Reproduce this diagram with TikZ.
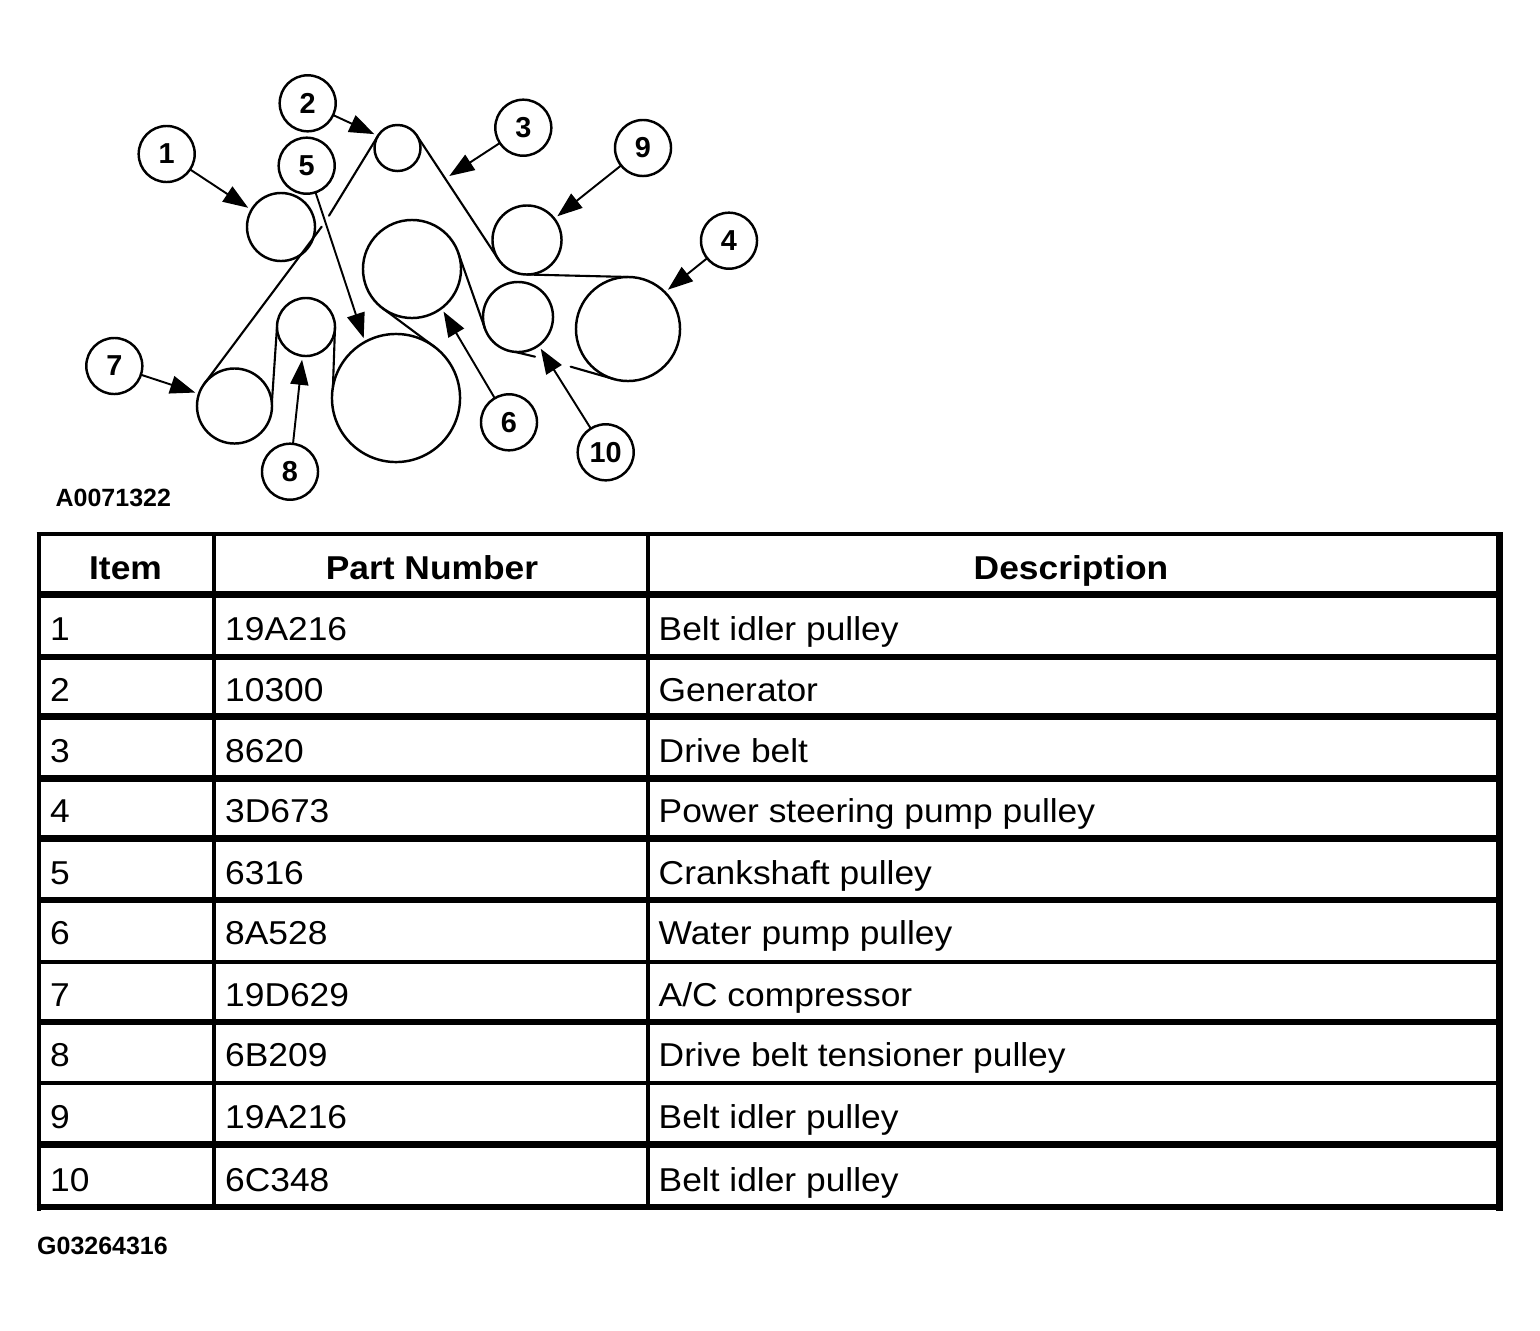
\documentclass[tikz,border=0pt]{standalone}
\usepackage{fontspec}
\setmainfont{Liberation Sans}
\newfontfamily\tablefont[FakeStretch=1.07]{Liberation Sans}
\usetikzlibrary{arrows.meta}
\begin{document}
\begin{tikzpicture}[x=0.01cm,y=-0.01cm]
\tikzset{
  pulley/.style={circle,draw=black,line width=0.7pt,minimum size=#1,inner sep=0pt,outer sep=0pt},
  tagnode/.style={circle,draw=black,line width=0.7pt,minimum size=5.6mm,inner sep=0pt,outer sep=0pt,font=\fontsize{8.2pt}{9pt}\selectfont\bfseries},
  belt/.style={draw=black,line width=0.6pt,line cap=round,line join=round},
  leader/.style={draw=black,line width=0.55pt,shorten >=0.4mm,-{Triangle[length=2.5mm,width=1.8mm]}},
  cell/.style={anchor=base west,inner sep=0pt,font=\fontsize{9.4pt}{11pt}\selectfont\tablefont},
  headcell/.style={anchor=base,inner sep=0pt,font=\fontsize{9.4pt}{11pt}\selectfont\tablefont\bfseries},
  figcode/.style={anchor=base west,inner sep=0pt,font=\fontsize{7.1pt}{8pt}\selectfont\bfseries},
  rulethick/.style={draw=black,line width=0.67mm},
  rulethin/.style={draw=black,line width=0.42mm}
}
\useasboundingbox (0,0) rectangle (1540,1330);
% pulleys
\node[pulley=6.8mm] (n_p1) at (281,227) {};
\node[pulley=4.6mm] (n_p2) at (397.5,148) {};
\node[pulley=10.4mm] (n_p4) at (628,329) {};
\node[pulley=12.8mm] (n_p5) at (396,398) {};
\node[pulley=9.8mm] (n_p6) at (412,269) {};
\node[pulley=7.5mm] (n_p7) at (234.5,406) {};
\node[pulley=5.8mm] (n_p8) at (306,327) {};
\node[pulley=6.9mm] (n_p9) at (527,240) {};
\node[pulley=7.0mm] (n_p10) at (518,317) {};
% callouts
\node[tagnode] (n_t1) at (166.7,154) {1};
\node[tagnode] (n_t2) at (307.7,103.3) {2};
\node[tagnode] (n_t3) at (523.3,127.7) {3};
\node[tagnode] (n_t4) at (729,240.7) {4};
\node[tagnode] (n_t5) at (306.7,165.7) {5};
\node[tagnode] (n_t6) at (509,422.3) {6};
\node[tagnode] (n_t7) at (114.3,366) {7};
\node[tagnode] (n_t8) at (290,471.7) {8};
\node[tagnode] (n_t9) at (643,148) {9};
\node[tagnode] (n_t10) at (605.7,452.3) {10};
% belt ends and gaps
\coordinate (n_gapA) at (321.7,226.7);
\coordinate (n_gapB) at (329,215.7);
\coordinate (n_tailA) at (570.7,366.7);
\coordinate (n_tailB) at (535,356.7);
\coordinate (n_beltmark) at (449.3,176);
\draw[belt] (n_p7.143) -- (n_gapA);
\draw[belt] (n_gapB) -- (n_p2.148);
\draw[belt] (n_p2.34) -- (n_p9.214);
\draw[belt] (n_p9.270) -- (n_p4.90);
\draw[belt] (n_tailA) -- (n_p4.255);
\draw[belt] (n_tailB) -- (n_p10.265);
\draw[belt] (n_p10.199) -- (n_p6.19);
\draw[belt] (n_p6.233) -- (n_p5.53);
\draw[belt] (n_p5.170) -- (n_p8.0);
\draw[belt] (n_p8.180) -- (n_p7.5);
% arrows
\draw[leader] (n_t1) -- (n_p1.150);
\draw[leader] (n_t2) -- (n_p2.148);
\draw[leader,shorten >=0pt] (n_t3) -- (n_beltmark);
\draw[leader] (n_t4) -- (n_p4.45);
\draw[leader] (n_t5) -- (n_p5.119);
\draw[leader] (n_t6) -- (n_p6.-53);
\draw[leader] (n_t7) -- (n_p7.161);
\draw[leader] (n_t8) -- (n_p8.263);
\draw[leader] (n_t9) -- (n_p9.38);
\draw[leader] (n_t10) -- (n_p10.-54);
\node[figcode] (n_figA) at (55,506) {A0071322};
% table
\draw[rulethin] (36.7,534) -- (1502.7,534);
\draw[rulethick] (36.7,1207) -- (1502.7,1207);
\draw[rulethin] (38.8,532) -- (38.8,1210.7);
\draw[rulethick] (1499.3,532) -- (1499.3,1210.7);
\draw[rulethin] (214.2,534) -- (214.2,1207);
\draw[rulethin] (647.8,534) -- (647.8,1207);
\draw[rulethick] (38.8,594.3) -- (1499.3,594.3);
\draw[rulethick] (38.8,657) -- (1499.3,657);
\draw[rulethick] (38.8,716.3) -- (1499.3,716.3);
\draw[rulethick] (38.8,778.3) -- (1499.3,778.3);
\draw[rulethick] (38.8,838.3) -- (1499.3,838.3);
\draw[rulethick] (38.8,900) -- (1499.3,900);
\draw[rulethin] (38.8,962) -- (1499.3,962);
\draw[rulethick] (38.8,1022) -- (1499.3,1022);
\draw[rulethin] (38.8,1083.3) -- (1499.3,1083.3);
\draw[rulethick] (38.8,1144.4) -- (1499.3,1144.4);
\node[headcell] (n_hItem) at (125.5,579) {Item};
\node[headcell] (n_hPart) at (432,579) {Part Number};
\node[headcell] (n_hDesc) at (1071,579) {Description};
\node[cell] (n_a1) at (49.5,640.5) {1};
\node[cell] (n_b1) at (224.5,640.5) {19A216};
\node[cell] (n_c1) at (658,640.5) {Belt idler pulley};
\node[cell] (n_a2) at (49.5,701) {2};
\node[cell] (n_b2) at (224.5,701) {10300};
\node[cell] (n_c2) at (658,701) {Generator};
\node[cell] (n_a3) at (49.5,762) {3};
\node[cell] (n_b3) at (224.5,762) {8620};
\node[cell] (n_c3) at (658,762) {Drive belt};
\node[cell] (n_a4) at (49.5,822) {4};
\node[cell] (n_b4) at (224.5,822) {3D673};
\node[cell] (n_c4) at (658,822) {Power steering pump pulley};
\node[cell] (n_a5) at (49.5,884.5) {5};
\node[cell] (n_b5) at (224.5,884.5) {6316};
\node[cell] (n_c5) at (658,884.5) {Crankshaft pulley};
\node[cell] (n_a6) at (49.5,944.5) {6};
\node[cell] (n_b6) at (224.5,944.5) {8A528};
\node[cell] (n_c6) at (658,944.5) {Water pump pulley};
\node[cell] (n_a7) at (49.5,1006.5) {7};
\node[cell] (n_b7) at (224.5,1006.5) {19D629};
\node[cell] (n_c7) at (658,1006.5) {A/C compressor};
\node[cell] (n_a8) at (49.5,1066.5) {8};
\node[cell] (n_b8) at (224.5,1066.5) {6B209};
\node[cell] (n_c8) at (658,1066.5) {Drive belt tensioner pulley};
\node[cell] (n_a9) at (49.5,1128.5) {9};
\node[cell] (n_b9) at (224.5,1128.5) {19A216};
\node[cell] (n_c9) at (658,1128.5) {Belt idler pulley};
\node[cell] (n_a10) at (49.5,1191) {10};
\node[cell] (n_b10) at (224.5,1191) {6C348};
\node[cell] (n_c10) at (658,1191) {Belt idler pulley};
\node[figcode] (n_figG) at (36.5,1254) {G03264316};
\end{tikzpicture}
\end{document}
